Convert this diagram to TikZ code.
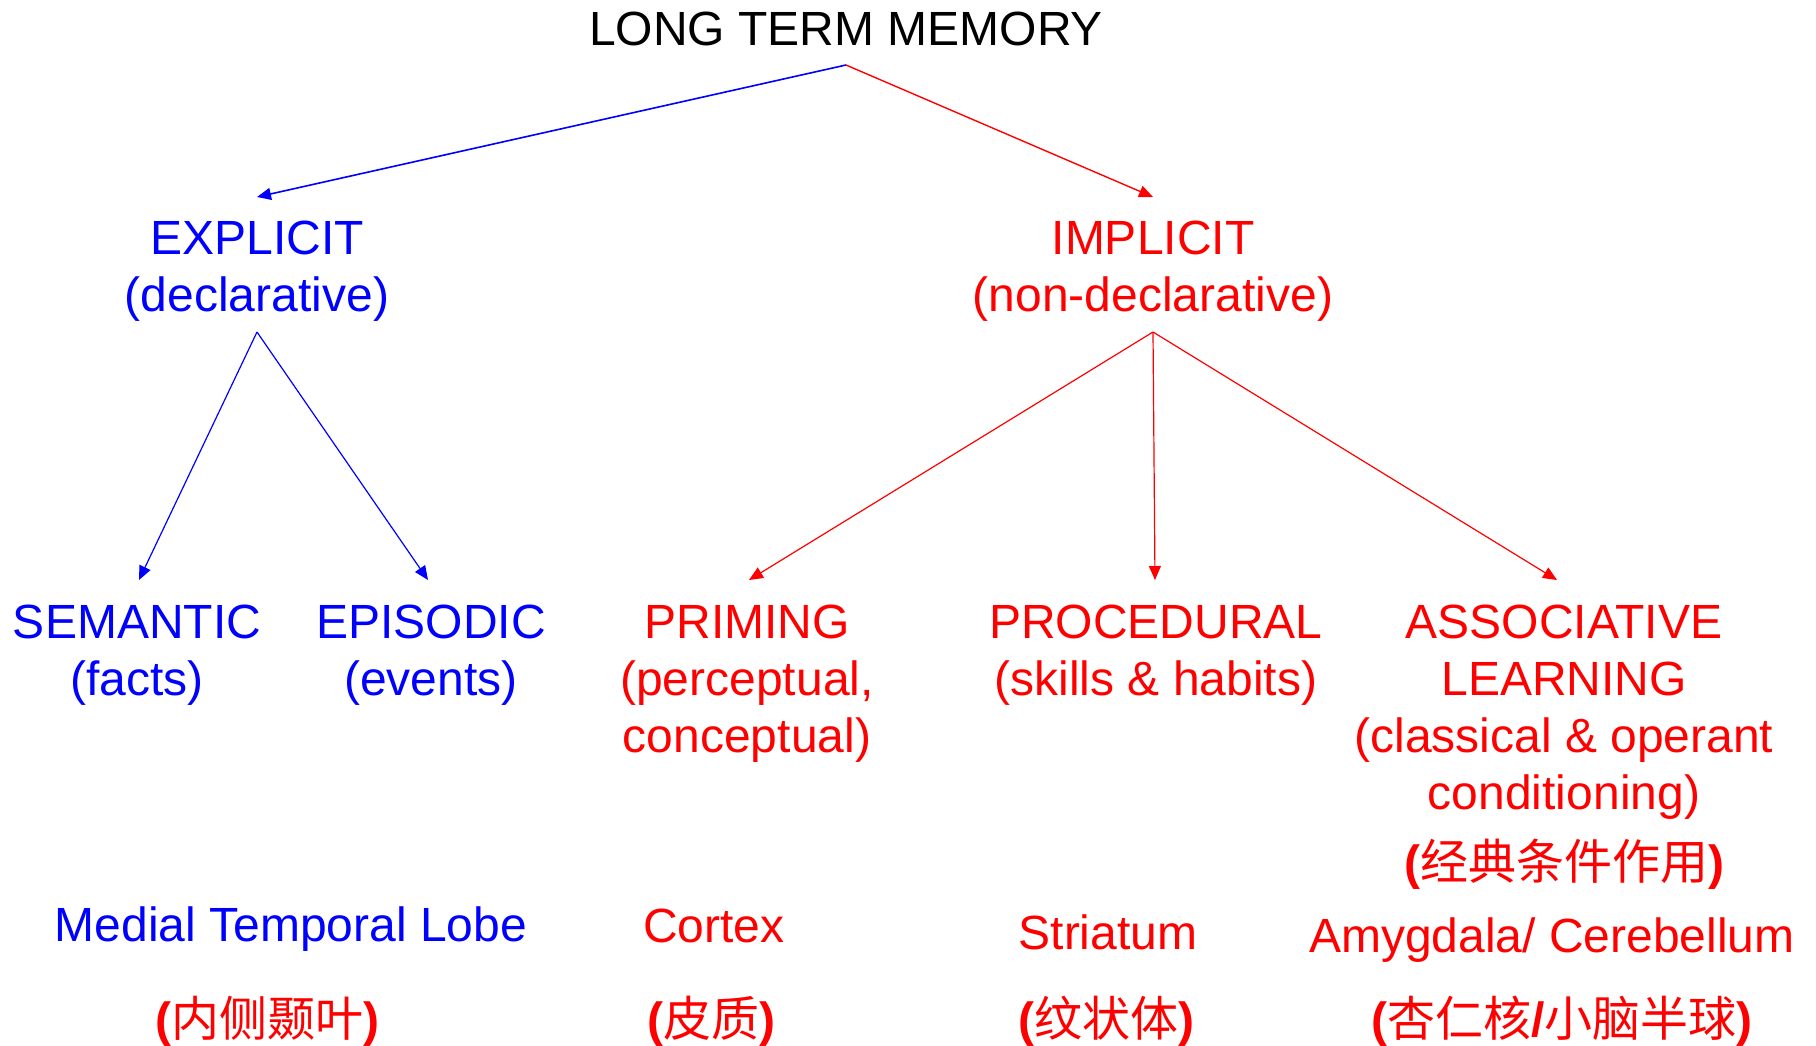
\documentclass[tikz,border=0pt]{standalone}
\usepackage{fontspec}
\setmainfont{Liberation Sans}
\newfontfamily\cjk{Noto Sans CJK SC}
\usetikzlibrary{arrows.meta}
\newcommand{\myst}{\rule{0pt}{45pt}}
\definecolor{cblue}{RGB}{0,0,255}
\definecolor{cred}{RGB}{255,0,0}
\tikzset{
  lbl/.style={anchor=north, inner sep=0pt, align=center, font=\fontsize{48}{57}\selectfont},
  conn/.style={line width=1.2pt, -{Triangle[length=14pt,width=12pt]}},
}
\begin{document}
\begin{tikzpicture}[x=1pt,y=-1pt]
\useasboundingbox (0,0) rectangle (1816,1045);
% text nodes (y = baseline - 45)
\node[lbl] (ltm) at (846,0.7) {\myst LONG TERM MEMORY};
\node[lbl,text=cblue] (explicit) at (257,209) {\myst EXPLICIT\\(declarative)};
\node[lbl,text=cred] (implicit) at (1153,209) {\myst IMPLICIT\\(non-declarative)};
\node[lbl,text=cblue] (semantic) at (137,593) {\myst SEMANTIC\\(facts)};
\node[lbl,text=cblue] (episodic) at (431,593) {\myst EPISODIC\\(events)};
\node[lbl,text=cred] (priming) at (747,593) {\myst PRIMING\\(perceptual,\\conceptual)};
\node[lbl,text=cred] (procedural) at (1156,593) {\myst PROCEDURAL\\(skills \& habits)};
\node[lbl,text=cred] (associative) at (1564,593) {\myst ASSOCIATIVE\\LEARNING\\(classical \& operant\\conditioning)\\[13pt]{\bfseries(}{\cjk 经典条件作用}{\bfseries)}};
\node[lbl,text=cblue] (mtl) at (291,896) {\myst Medial Temporal Lobe};
\node[lbl,text=cred] (cortex) at (714,897) {\myst Cortex};
\node[lbl,text=cred] (striatum) at (1108,904) {\myst Striatum};
\node[lbl,text=cred] (amyg) at (1552,907) {\myst Amygdala/ Cerebellum};
\node[lbl,text=cred] (mtlcn) at (267,991) {\myst{\bfseries(}{\cjk 内侧颞叶}{\bfseries)}};
\node[lbl,text=cred] (cortexcn) at (711,991) {\myst{\bfseries(}{\cjk 皮质}{\bfseries)}};
\node[lbl,text=cred] (striatumcn) at (1106,991) {\myst{\bfseries(}{\cjk 纹状体}{\bfseries)}};
\node[lbl,text=cred] (amygcn) at (1562,991) {\myst{\bfseries(}{\cjk 杏仁核}{\bfseries/}{\cjk 小脑半球}{\bfseries)}};
% connector end points
\coordinate (ltm-s) at (846,65);
\coordinate (explicit-n) at (257,197);
\coordinate (implicit-n) at (1153,197);
\coordinate (explicit-s) at (257,332);
\coordinate (implicit-s) at (1153,332);
\coordinate (semantic-n) at (139,580);
\coordinate (episodic-n) at (428,580);
\coordinate (priming-n) at (749,580);
\coordinate (procedural-n) at (1155,580);
\coordinate (associative-n) at (1557,580);
% connectors
\draw[conn,cblue,line width=1.6pt] (ltm-s) -- (explicit-n);
\draw[conn,cred,line width=1.4pt] (ltm-s) -- (implicit-n);
\draw[conn,cblue] (explicit-s) -- (semantic-n);
\draw[conn,cblue] (explicit-s) -- (episodic-n);
\draw[conn,cred] (implicit-s) -- (priming-n);
\draw[conn,cred] (implicit-s) -- (procedural-n);
\draw[conn,cred] (implicit-s) -- (associative-n);
\end{tikzpicture}
\end{document}
